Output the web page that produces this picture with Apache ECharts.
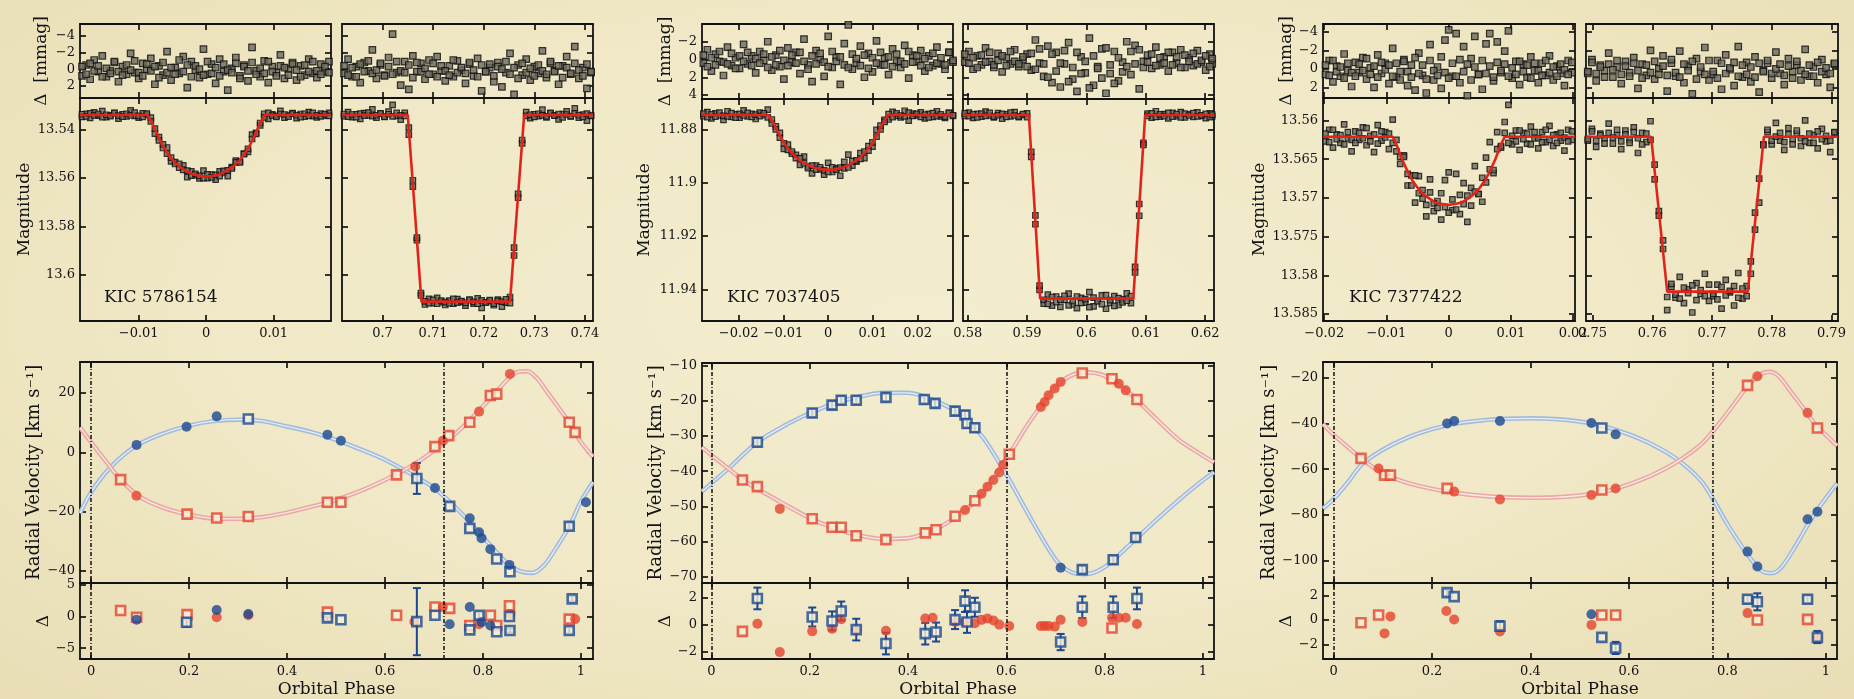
<!DOCTYPE html>
<html><head><meta charset="utf-8">
<script src="https://cdn.jsdelivr.net/npm/echarts@6/dist/echarts.min.js"></script>
<style>
html,body{margin:0;padding:0;width:1854px;height:699px;overflow:hidden;}
body{background:radial-gradient(ellipse at 50% 45%, #f3edcf 0%, #f0e8c6 55%, #e8ddb5 100%);}
#chart{width:1854px;height:699px;}
</style></head><body><div id="chart"></div>
<script>
// ================= KIC 5786154 =================
const lcPhaseP1 = [-0.0184,-0.0178,-0.0172,-0.0166,-0.016,-0.0154,-0.0148,-0.0142,-0.0136,-0.013,-0.0124,-0.0118,-0.0112,-0.0106,-0.01,-0.0094,-0.0088,-0.0082,-0.0076,-0.007,-0.0064,-0.0058,-0.0052,-0.0046,-0.004,-0.0034,-0.0028,-0.0022,-0.0016,-0.001,-0.0004,0.0002,0.0008,0.0014,0.002,0.0026,0.0032,0.0038,0.0044,0.005,0.0056,0.0062,0.0068,0.0074,0.008,0.0086,0.0092,0.0098,0.0104,0.011,0.0116,0.0122,0.0128,0.0134,0.014,0.0146,0.0152,0.0158,0.0164,0.017,0.0176,0.0182];
const lcResidP1 = [0.8,-0.5,1.2,-1.1,0.3,-1.6,0.9,0.2,-0.8,1.5,-0.3,0.6,-1.9,0.4,1.1,-0.7,0.0,-1.3,1.8,-0.4,0.7,-2.1,1.3,-0.2,0.5,-1.5,2.2,-0.9,0.1,1.0,-2.4,0.6,-0.6,1.7,-1.2,0.3,2.5,-0.1,-1.4,0.8,-0.5,1.4,-2.6,0.2,0.9,-1.0,1.6,-0.3,0.4,-1.7,1.1,0.0,-0.8,1.3,-0.4,0.7,-1.2,0.5,1.0,-0.6,0.3,-0.9];
const lcMagP1 = [13.5349,13.5336,13.5353,13.5330,13.5344,13.5325,13.5350,13.5343,13.5333,13.5356,13.5338,13.5347,13.5322,13.5345,13.5352,13.5334,13.5341,13.5352,13.5418,13.5432,13.5477,13.5475,13.5532,13.5535,13.5558,13.5549,13.5597,13.5573,13.5589,13.5602,13.5570,13.5601,13.5587,13.5607,13.5573,13.5580,13.5593,13.5556,13.5529,13.5533,13.5500,13.5493,13.5422,13.5415,13.5384,13.5336,13.5357,13.5338,13.5345,13.5324,13.5352,13.5341,13.5333,13.5354,13.5337,13.5348,13.5329,13.5346,13.5351,13.5335,13.5344,13.5332];
const lcResidP1b = [-0.3,0.6,-0.7,0.2,-0.4,0.9,-0.1,0.5,-0.9,0.3,0.7,-0.5,0.1,-1.0,0.4,0.8,-0.6,0.2,-0.3,1.0,-0.8,0.4,-0.2,0.6,-1.1,0.3,-0.5,0.9,-0.4,0.0,0.7,-0.9,0.5,-0.2,0.8,-0.6,0.1,0.4,-0.7,1.1,-0.3,0.2,-0.8,0.6,-0.1,0.5,-0.9,0.3,0.8,-0.4,-0.2,0.7,-0.6,0.1,0.9,-0.5,0.3,-0.9,0.2,0.6,-0.3,0.4];
const lcMagP1b = [13.5338,13.5347,13.5334,13.5343,13.5337,13.5350,13.5340,13.5346,13.5332,13.5344,13.5348,13.5336,13.5342,13.5331,13.5345,13.5349,13.5335,13.5367,13.5397,13.5446,13.5462,13.5500,13.5517,13.5543,13.5542,13.5567,13.5570,13.5591,13.5584,13.5592,13.5601,13.5586,13.5598,13.5588,13.5593,13.5571,13.5569,13.5561,13.5536,13.5536,13.5502,13.5481,13.5440,13.5419,13.5374,13.5351,13.5332,13.5344,13.5349,13.5337,13.5339,13.5348,13.5335,13.5342,13.5350,13.5336,13.5344,13.5332,13.5343,13.5347,13.5338,13.5345];
const lcModelP1 = [[-0.0187,13.5341],[-0.0087,13.5341],[-0.008,13.5375],[-0.0072,13.5425],[-0.0064,13.547],[-0.0056,13.5505],[-0.0048,13.5532],[-0.004,13.5553],[-0.003,13.5572],[-0.002,13.5585],[-0.001,13.5592],[0,13.5595],[0.001,13.5592],[0.002,13.5585],[0.003,13.5572],[0.004,13.5553],[0.0048,13.5532],[0.0056,13.5505],[0.0064,13.547],[0.0072,13.5425],[0.008,13.5375],[0.0087,13.5341],[0.0185,13.5341]];
const lcPhaseS1 = [0.6924,0.6932,0.694,0.6948,0.6956,0.6964,0.6972,0.698,0.6988,0.6996,0.7004,0.7012,0.702,0.7028,0.7036,0.7044,0.7052,0.706,0.7068,0.7076,0.7084,0.7092,0.71,0.7108,0.7116,0.7124,0.7132,0.714,0.7148,0.7156,0.7164,0.7172,0.718,0.7188,0.7196,0.7204,0.7212,0.722,0.7228,0.7236,0.7244,0.7252,0.726,0.7268,0.7276,0.7284,0.7292,0.73,0.7308,0.7316,0.7324,0.7332,0.734,0.7348,0.7356,0.7364,0.7372,0.738,0.7388,0.7396,0.7404,0.7412];
const lcResidS1 = [0.5,-1.2,0.9,-0.3,1.6,-0.8,0.2,-2.3,1.1,-0.5,0.7,-1.4,-4.2,0.4,1.9,-0.9,2.4,-1.6,0.3,-0.7,1.2,-1.1,0.6,-1.5,0.2,1.4,-0.4,0.9,-1.0,0.1,1.7,-0.6,0.8,-1.3,2.6,0.3,-0.2,1.5,-0.8,2.1,0.4,-1.9,3.0,-0.5,0.7,-1.2,1.3,-0.3,0.5,-2.2,1.0,-0.7,0.2,1.8,-0.4,-1.5,0.6,-2.7,1.1,-0.2,2.3,0.4];
const lcMagS1 = [13.5346,13.5329,13.5350,13.5338,13.5357,13.5333,13.5343,13.5318,13.5352,13.5336,13.5348,13.5327,13.5299,13.5345,13.5360,13.5332,13.5422,13.5610,13.5857,13.6075,13.6122,13.6099,13.6116,13.6095,13.6112,13.6124,13.6106,13.6119,13.6100,13.6111,13.6127,13.6104,13.6118,13.6097,13.6136,13.6113,13.6108,13.6125,13.6102,13.6131,13.6114,13.6091,13.5920,13.5666,13.5458,13.5329,13.5354,13.5338,13.5346,13.5319,13.5351,13.5334,13.5343,13.5359,13.5337,13.5326,13.5347,13.5314,13.5352,13.5339,13.5364,13.5345];
const lcResidS1b = [-0.4,0.7,-0.2,0.9,-0.6,0.3,-1.0,0.5,0.1,-0.7,0.8,-0.3,0.6,-0.9,0.2,0.4,-0.5,1.0,-0.8,0.3,-0.1,0.6,-0.7,0.9,-0.4,0.2,0.7,-1.1,0.4,-0.2,0.5,-0.8,0.1,0.9,-0.5,0.3,-0.6,0.8,-0.3,0.0,-0.9,0.6,-0.2,1.1,-0.7,0.4,-0.1,0.8,-0.5,0.2,0.6,-0.9,0.3,-0.4,1.0,-0.2,0.5,-0.7,0.1,0.8,-0.6,0.3];
const lcMagS1b = [13.5337,13.5348,13.5339,13.5350,13.5335,13.5344,13.5331,13.5346,13.5342,13.5334,13.5349,13.5338,13.5347,13.5332,13.5343,13.5345,13.5393,13.5636,13.5846,13.6085,13.6109,13.6116,13.6103,13.6119,13.6106,13.6112,13.6117,13.6099,13.6114,13.6108,13.6115,13.6102,13.6111,13.6119,13.6105,13.6113,13.6104,13.6118,13.6107,13.6110,13.6101,13.6116,13.5888,13.5682,13.5444,13.5345,13.5340,13.5349,13.5336,13.5343,13.5347,13.5332,13.5344,13.5337,13.5351,13.5339,13.5346,13.5334,13.5342,13.5349,13.5335,13.5344];
const lcModelS1 = [[0.692,13.5341],[0.705,13.5341],[0.7077,13.611],[0.7252,13.611],[0.728,13.5341],[0.7416,13.5341]];
const rv1BlueModel = [[-0.0225,-20.5],[0,-13.5],[0.04,-5],[0.093,2.3],[0.15,6.5],[0.2,9],[0.25,10.5],[0.3,11],[0.35,10.5],[0.4,8.7],[0.45,6.8],[0.5,4.2],[0.55,1.0],[0.6,-2.5],[0.65,-7],[0.7,-12],[0.75,-19.5],[0.8,-28.5],[0.85,-37.5],[0.875,-40],[0.9,-40.6],[0.925,-38],[0.95,-32],[0.976,-25],[1.0,-16.5],[1.0245,-10]];
const rv1RedModel = [[-0.0225,8.4],[0,3.4],[0.03,-3],[0.06,-9.2],[0.1,-15],[0.15,-18.8],[0.2,-21],[0.25,-22.3],[0.3,-22.4],[0.35,-21.8],[0.4,-20.3],[0.45,-18.3],[0.5,-16],[0.55,-13],[0.6,-9.3],[0.65,-5],[0.7,0.5],[0.75,7.2],[0.8,15.5],[0.85,24.5],[0.87,27],[0.89,27.3],[0.91,25],[0.93,20.5],[0.95,16],[0.976,10],[1.0,3.4],[1.0245,-1.5]];
const rv1BlueFilled = [[0.093,2.5],[0.195,8.6],[0.2565,12.1],[0.4825,5.9],[0.51,3.9],[0.702,-12.0],[0.773,-22.2],[0.792,-26.9],[0.797,-28.9],[0.815,-32.6],[0.854,-37.9],[1.01,-16.8]];
const rv1BlueOpen = [[0.321,11.2],[0.665,-8.8],[0.732,-18.2],[0.773,-25.6],[0.828,-35.9],[0.855,-40.2],[0.976,-24.9]];
const rv1BlueErr = [[0.665,-14.0,-3.6],[0.976,-26.0,-23.8]];
const rv1RedFilled = [[0.0927,-14.6],[0.6616,-4.8],[0.718,3.9],[0.792,13.7],[0.855,26.4]];
const rv1RedOpen = [[0.0604,-9.2],[0.196,-20.8],[0.2565,-22.1],[0.321,-21.6],[0.4825,-16.8],[0.51,-16.8],[0.6236,-7.6],[0.702,1.9],[0.73,5.6],[0.773,10.1],[0.815,19.1],[0.828,19.6],[0.976,10.1],[0.988,6.7]];
const dv1BlueFilled = [[0.093,-0.5],[0.2565,1.05],[0.321,0.4],[0.732,-1.2],[0.773,1.5],[0.797,-0.9],[0.815,-1.4]];
const dv1BlueOpen = [[0.195,-0.9],[0.4825,-0.2],[0.51,-0.5],[0.665,-0.8],[0.702,0.2],[0.773,-2.1],[0.792,0.2],[0.828,-2.4],[0.854,0],[0.855,-2.2],[0.976,-2.2],[0.982,2.8]];
const dv1BlueErr = [[0.195,-1.6,-0.2],[0.4825,-0.7,0.3],[0.665,-6.1,4.5],[0.792,-0.3,0.7],[0.855,-2.5,-1.9],[0.976,-2.7,-1.7],[0.982,2.4,3.2]];
const dv1RedFilled = [[0.2565,-0.1],[0.321,0.2],[0.66,-0.8],[0.718,1.5],[0.792,-1.2],[0.856,0.4],[0.988,-0.4]];
const dv1RedOpen = [[0.0604,0.95],[0.093,-0.1],[0.196,0.3],[0.4825,0.7],[0.6236,0.2],[0.702,1.5],[0.732,1.3],[0.773,-1.4],[0.815,0.2],[0.828,-1.4],[0.854,1.7],[0.976,-0.4]];
const ecl1 = [0, 0.718];

// ================= KIC 7037405 =================
const lcPhaseP2 = [-0.0279,-0.027,-0.0261,-0.0252,-0.0243,-0.0234,-0.0225,-0.0216,-0.0207,-0.0198,-0.0189,-0.018,-0.0171,-0.0162,-0.0153,-0.0144,-0.0135,-0.0126,-0.0117,-0.0108,-0.0099,-0.009,-0.0081,-0.0072,-0.0063,-0.0054,-0.0045,-0.0036,-0.0027,-0.0018,-0.0009,0,0.0009,0.0018,0.0027,0.0036,0.0045,0.0054,0.0063,0.0072,0.0081,0.009,0.0099,0.0108,0.0117,0.0126,0.0135,0.0144,0.0153,0.0162,0.0171,0.018,0.0189,0.0198,0.0207,0.0216,0.0225,0.0234,0.0243,0.0252,0.0261,0.027,0.0279];
const lcResidP2 = [0.4,-1.1,1.3,-0.6,0.2,1.8,-1.4,0.7,-0.2,1.0,-1.7,0.5,-0.4,1.5,-0.9,0.1,-2.0,1.2,-0.5,0.8,2.2,-1.3,0.3,-0.8,1.6,-2.3,0.6,2.5,-1.0,0.0,1.9,-2.6,0.9,-0.3,2.8,-1.8,-3.9,1.1,0.4,-1.5,2.0,-0.7,1.4,-2.1,0.6,-0.2,1.7,-1.2,0.3,0.9,-1.6,2.1,-0.5,0.2,-1.0,1.3,-0.4,0.7,-1.4,0.5,1.1,-0.8,0.3];
const lcMagP2 = [11.8750,11.8735,11.8759,11.8740,11.8748,11.8764,11.8732,11.8753,11.8744,11.8756,11.8729,11.8751,11.8742,11.8761,11.8737,11.8747,11.8726,11.8778,11.8789,11.8831,11.8873,11.8857,11.8891,11.8896,11.8933,11.8902,11.8940,11.8965,11.8936,11.8949,11.8970,11.8926,11.8960,11.8946,11.8974,11.8922,11.8895,11.8936,11.8921,11.8889,11.8908,11.8863,11.8865,11.8802,11.8800,11.8764,11.8763,11.8734,11.8749,11.8755,11.8730,11.8767,11.8741,11.8748,11.8736,11.8759,11.8742,11.8753,11.8732,11.8751,11.8757,11.8738,11.8749];
const lcResidP2b = [-0.5,0.8,-0.2,0.6,-0.9,0.3,0.5,-0.7,1.0,-0.4,0.2,-0.8,0.7,-0.1,0.4,-0.6,0.9,-0.3,0.6,-1.0,0.1,0.7,-0.5,0.4,-0.8,0.2,1.1,-0.4,0.5,-0.7,0.3,0.8,-0.9,0.2,-0.3,0.6,0.9,-0.6,-0.1,0.7,-0.5,1.0,-0.2,0.4,-0.8,0.6,-0.3,0.8,-0.6,0.2,0.5,-0.9,0.3,-0.4,0.7,-0.1,0.9,-0.7,0.4,-0.2,0.6,-0.8,0.1];
const lcMagP2b = [11.8741,11.8754,11.8744,11.8752,11.8737,11.8749,11.8751,11.8739,11.8756,11.8742,11.8748,11.8738,11.8753,11.8745,11.8750,11.8740,11.8755,11.8763,11.8800,11.8813,11.8852,11.8877,11.8883,11.8908,11.8909,11.8927,11.8945,11.8936,11.8951,11.8942,11.8954,11.8960,11.8942,11.8951,11.8943,11.8946,11.8943,11.8919,11.8916,11.8911,11.8883,11.8880,11.8849,11.8827,11.8786,11.8772,11.8743,11.8754,11.8740,11.8748,11.8751,11.8737,11.8749,11.8742,11.8753,11.8745,11.8755,11.8739,11.8750,11.8744,11.8752,11.8738,11.8747];
const lcModelP2 = [[-0.0282,11.8746],[-0.0134,11.8746],[-0.0123,11.8774],[-0.0111,11.8814],[-0.0099,11.8851],[-0.0086,11.8879],[-0.0074,11.8901],[-0.0062,11.8918],[-0.0046,11.8933],[-0.0031,11.8944],[-0.0015,11.895],[0,11.8952],[0.0015,11.895],[0.0031,11.8944],[0.0046,11.8933],[0.0062,11.8918],[0.0074,11.8901],[0.0086,11.8879],[0.0099,11.8851],[0.0111,11.8814],[0.0123,11.8774],[0.0134,11.8746],[0.0279,11.8746]];
const lcPhaseS2 = [0.5795,0.5802,0.5809,0.5816,0.5823,0.583,0.5837,0.5844,0.5851,0.5858,0.5865,0.5872,0.5879,0.5886,0.5893,0.59,0.5907,0.5914,0.5921,0.5928,0.5935,0.5942,0.5949,0.5956,0.5963,0.597,0.5977,0.5984,0.5991,0.5998,0.6005,0.6012,0.6019,0.6026,0.6033,0.604,0.6047,0.6054,0.6061,0.6068,0.6075,0.6082,0.6089,0.6096,0.6103,0.611,0.6117,0.6124,0.6131,0.6138,0.6145,0.6152,0.6159,0.6166,0.6173,0.618,0.6187,0.6194,0.6201,0.6208,0.6212];
const lcResidS2 = [0.3,-0.9,1.1,-0.4,0.6,-1.3,0.2,0.9,-0.7,1.4,-0.2,0.5,-1.1,0.8,0.0,-0.6,1.2,-2.2,0.4,1.9,-1.5,2.6,-0.8,3.1,0.5,-1.9,2.2,3.6,-0.3,1.5,-2.4,2.9,0.8,-1.2,3.8,1.6,-0.9,2.4,0.3,-2.0,1.7,-1.6,3.3,0.2,-0.5,1.0,-1.4,0.6,-0.3,1.3,-0.8,0.4,-1.1,0.9,-0.2,0.7,-1.0,0.3,1.2,-0.6,0.5];
const lcMagS2 = [11.8749,11.8737,11.8757,11.8742,11.8752,11.8733,11.8748,11.8755,11.8739,11.8760,11.8744,11.8751,11.8735,11.8754,11.8746,11.8740,11.8903,11.9123,11.9402,11.9454,11.9420,11.9461,11.9427,11.9466,11.9440,11.9416,11.9457,11.9471,11.9432,11.9450,11.9411,11.9464,11.9443,11.9423,11.9473,11.9451,11.9426,11.9459,11.9438,11.9415,11.9452,11.9316,11.9124,11.8851,11.8741,11.8756,11.8732,11.8752,11.8743,11.8759,11.8738,11.8750,11.8735,11.8755,11.8744,11.8753,11.8736,11.8749,11.8758,11.8740,11.8751];
const lcResidS2b = [-0.6,0.4,-0.2,0.9,-0.5,0.3,-0.8,0.6,0.1,-0.4,0.7,-0.9,0.2,0.5,-0.3,0.8,-0.7,1.1,-1.2,0.5,2.0,-0.6,1.3,0.4,-1.0,2.5,0.9,-0.8,1.6,0.2,3.2,-0.4,1.0,2.1,-1.3,0.6,2.7,-0.2,1.4,0.8,-0.9,0.5,-1.1,0.9,0.3,-0.6,0.7,-0.2,0.4,-0.8,0.6,-0.3,0.9,-0.5,0.2,-0.7,0.5,0.1,-0.4,0.8,-0.1];
const lcMagS2b = [11.8740,11.8750,11.8744,11.8755,11.8741,11.8749,11.8738,11.8752,11.8747,11.8742,11.8753,11.8737,11.8748,11.8751,11.8743,11.8754,11.8884,11.9156,11.9386,11.9440,11.9455,11.9429,11.9448,11.9439,11.9425,11.9460,11.9444,11.9427,11.9451,11.9437,11.9467,11.9431,11.9445,11.9456,11.9422,11.9441,11.9462,11.9433,11.9449,11.9443,11.9426,11.9337,11.9080,11.8858,11.8749,11.8740,11.8753,11.8744,11.8750,11.8738,11.8752,11.8743,11.8755,11.8741,11.8748,11.8739,11.8751,11.8747,11.8742,11.8754,11.8745];
const lcModelS2 = [[0.5792,11.8746],[0.5903,11.8746],[0.5922,11.9435],[0.6079,11.9435],[0.6099,11.8746],[0.6215,11.8746]];
const rv2BlueModel = [[-0.0193,-45.8],[0,-43.4],[0.035,-39.2],[0.093,-31.8],[0.15,-27],[0.2,-23.6],[0.25,-20.8],[0.3,-18.9],[0.35,-17.8],[0.4,-17.8],[0.45,-19.8],[0.5,-23.3],[0.55,-30],[0.6,-41],[0.65,-53.5],[0.7,-65],[0.73,-68.5],[0.76,-69.2],[0.8,-67.2],[0.85,-61],[0.9,-54.5],[0.95,-48.3],[1.0,-42.6],[1.0226,-40.3]];
const rv2RedModel = [[-0.0193,-33.2],[0,-35.5],[0.035,-39.3],[0.063,-42.4],[0.093,-45],[0.14,-48.7],[0.2,-53.3],[0.25,-56.2],[0.3,-58.2],[0.35,-59.2],[0.4,-59],[0.45,-56.8],[0.5,-52.8],[0.55,-46.5],[0.6,-36.5],[0.65,-25.5],[0.7,-16.2],[0.73,-13],[0.76,-12],[0.8,-13],[0.85,-17.8],[0.9,-24.5],[0.95,-31],[1.0,-35.6],[1.0226,-37.5]];
const rv2BlueFilled = [[0.7105,-67.4]];
const rv2BlueOpen = [[0.0934,-31.8],[0.205,-23.5],[0.2454,-21.3],[0.264,-19.9],[0.2946,-19.9],[0.355,-19.1],[0.433,-19.7],[0.455,-20.8],[0.4957,-23],[0.516,-24.1],[0.52,-26.5],[0.536,-27.7],[0.7546,-67.9],[0.8175,-65.1],[0.8633,-58.8]];
const rv2BlueErr = [[0.0934,-32.9,-30.7],[0.205,-24.6,-22.4],[0.2454,-22.4,-20.2],[0.264,-21,-18.8],[0.2946,-21,-18.8],[0.355,-20.2,-18],[0.433,-20.8,-18.6],[0.455,-21.9,-19.7],[0.4957,-24.1,-21.9],[0.516,-25.2,-23],[0.52,-27.6,-25.4],[0.536,-28.8,-26.6],[0.7546,-69,-66.8],[0.8175,-66.2,-64],[0.8633,-59.9,-57.7]];
const rv2RedFilled = [[0.139,-50.7],[0.516,-51],[0.5496,-46.4],[0.5616,-44.4],[0.5737,-42.5],[0.5857,-40.4],[0.5937,-38.2],[0.6702,-21.8],[0.678,-20.4],[0.686,-18.5],[0.6985,-16.6],[0.7105,-14.7],[0.8287,-15.2],[0.843,-17.1]];
const rv2RedOpen = [[0.063,-42.5],[0.0934,-44.4],[0.205,-53.5],[0.2454,-55.9],[0.264,-55.9],[0.2946,-58.3],[0.355,-59.4],[0.435,-57.5],[0.457,-56.6],[0.4957,-52.8],[0.536,-48.4],[0.606,-35.2],[0.7546,-12.2],[0.815,-13.8],[0.8658,-19.7]];
const dv2BlueFilled = [];
const dv2BlueOpen = [[0.0934,1.93],[0.205,0.56],[0.2454,0.27],[0.264,1.0],[0.2946,-0.37],[0.355,-1.4],[0.435,-0.67],[0.457,-0.55],[0.4957,0.37],[0.516,1.73],[0.52,0.19],[0.536,1.28],[0.7105,-1.29],[0.7546,1.28],[0.8175,1.28],[0.8658,1.93]];
const dv2BlueErr = [[0.0934,1.13,2.73],[0.205,-0.14,1.26],[0.2454,-0.43,0.97],[0.264,0.3,1.7],[0.2946,-1.17,0.43],[0.355,-2.2,-0.6],[0.435,-1.47,0.13],[0.457,-1.25,0.15],[0.4957,-0.33,1.07],[0.516,0.93,2.53],[0.52,-0.61,0.99],[0.536,0.58,1.98],[0.7105,-1.89,-0.69],[0.7546,0.48,2.08],[0.8175,0.48,2.08],[0.8658,1.13,2.73]];
const dv2RedFilled = [[0.0934,0.07],[0.139,-2.03],[0.205,-0.5],[0.2454,-0.3],[0.264,0.4],[0.2946,-0.4],[0.355,-0.45],[0.435,0.45],[0.45,0.5],[0.4957,0.2],[0.516,0.2],[0.536,0.1],[0.5496,0.35],[0.5616,0.45],[0.5737,0.3],[0.5857,0.0],[0.606,-0.1],[0.6702,-0.1],[0.678,-0.1],[0.686,-0.1],[0.6985,-0.15],[0.7105,0.35],[0.7546,0.2],[0.815,0.5],[0.8287,0.5],[0.843,0.5],[0.8658,0.05]];
const dv2RedOpen = [[0.063,-0.5],[0.815,-0.25]];
const ecl2 = [0, 0.6];

// ================= KIC 7377422 =================
const lcPhaseP3 = [-0.0198,-0.0192,-0.0186,-0.018,-0.0174,-0.0168,-0.0162,-0.0156,-0.015,-0.0144,-0.0138,-0.0132,-0.0126,-0.012,-0.0114,-0.0108,-0.0102,-0.0096,-0.009,-0.0084,-0.0078,-0.0072,-0.0066,-0.006,-0.0054,-0.0048,-0.0042,-0.0036,-0.003,-0.0024,-0.0018,-0.0012,-0.0006,0,0.0006,0.0012,0.0018,0.0024,0.003,0.0036,0.0042,0.0048,0.0054,0.006,0.0066,0.0072,0.0078,0.0084,0.009,0.0096,0.0102,0.0108,0.0114,0.012,0.0126,0.0132,0.0138,0.0144,0.015,0.0156,0.0162,0.0168,0.0174,0.018,0.0186,0.0192,0.0198];
const lcResidP3 = [0.6,-0.9,1.4,-0.3,0.8,-1.6,0.2,1.9,-0.7,0.4,-1.2,1.1,-0.1,2.0,-1.5,0.5,-0.6,1.6,-2.2,0.9,0.3,-1.0,1.8,-0.4,2.3,-1.7,0.7,2.6,-2.6,1.2,-0.2,2.1,-3.1,-4.2,0.8,-3.8,1.5,-2.4,2.9,-1.1,-3.5,0.6,2.2,-2.7,-3.8,1.3,-2.9,0.4,-1.9,-4.1,1.0,-0.8,1.7,-0.5,0.9,-1.3,0.2,1.5,-0.6,0.7,-1.4,1.2,-0.3,0.5,1.8,-0.9,0.4];
const lcMagP3 = [13.5627,13.5612,13.5635,13.5618,13.5629,13.5605,13.5623,13.5640,13.5614,13.5625,13.5609,13.5632,13.5620,13.5641,13.5606,13.5626,13.5615,13.5637,13.5599,13.5640,13.5647,13.5645,13.5684,13.5671,13.5706,13.5672,13.5701,13.5724,13.5676,13.5717,13.5704,13.5728,13.5677,13.5667,13.5716,13.5669,13.5721,13.5681,13.5731,13.5687,13.5659,13.5695,13.5705,13.5648,13.5628,13.5668,13.5615,13.5635,13.5602,13.5580,13.5631,13.5613,13.5638,13.5616,13.5630,13.5608,13.5623,13.5636,13.5615,13.5628,13.5607,13.5633,13.5618,13.5626,13.5639,13.5612,13.5625];
const lcResidP3b = [-0.4,0.7,-0.9,0.3,-0.2,1.0,-0.6,0.4,0.8,-0.5,0.2,-1.1,0.6,-0.3,0.9,-0.7,0.1,-0.4,0.8,-0.6,1.2,-0.8,0.3,0.9,-1.2,0.5,-0.4,1.1,-0.9,0.2,0.7,-1.3,0.4,1.0,-0.6,0.8,-1.0,0.3,-0.5,1.2,-0.2,0.6,-0.9,0.5,-0.3,0.9,-0.7,0.2,-0.5,0.8,-0.1,0.6,-0.8,0.3,-0.4,1.0,-0.6,0.2,0.7,-0.9,0.4,-0.2,0.8,-0.5,0.1,0.6,-0.7];
const lcMagP3b = [13.5617,13.5628,13.5612,13.5624,13.5619,13.5631,13.5615,13.5625,13.5629,13.5616,13.5623,13.5610,13.5627,13.5618,13.5630,13.5614,13.5622,13.5617,13.5629,13.5625,13.5656,13.5647,13.5669,13.5684,13.5671,13.5694,13.5690,13.5709,13.5693,13.5707,13.5713,13.5694,13.5712,13.5719,13.5702,13.5715,13.5696,13.5708,13.5697,13.5710,13.5692,13.5695,13.5674,13.5680,13.5663,13.5664,13.5637,13.5633,13.5616,13.5629,13.5620,13.5627,13.5613,13.5624,13.5617,13.5631,13.5615,13.5623,13.5628,13.5612,13.5625,13.5619,13.5629,13.5616,13.5622,13.5627,13.5614];
const lcModelP3 = [[-0.0202,13.5621],[-0.009,13.5621],[-0.0083,13.5633],[-0.0075,13.565],[-0.0066,13.5666],[-0.0058,13.5678],[-0.005,13.5687],[-0.0041,13.5695],[-0.0031,13.5701],[-0.0021,13.5706],[-0.001,13.5708],[0,13.5709],[0.001,13.5708],[0.0021,13.5706],[0.0031,13.5701],[0.0041,13.5695],[0.005,13.5687],[0.0058,13.5678],[0.0066,13.5666],[0.0075,13.565],[0.0083,13.5633],[0.009,13.5621],[0.0203,13.5621]];
const lcPhaseS3 = [0.7492,0.7499,0.7506,0.7513,0.752,0.7527,0.7534,0.7541,0.7548,0.7555,0.7562,0.7569,0.7576,0.7583,0.759,0.7597,0.7604,0.7611,0.7618,0.7625,0.7632,0.7639,0.7646,0.7653,0.766,0.7667,0.7674,0.7681,0.7688,0.7695,0.7702,0.7709,0.7716,0.7723,0.773,0.7737,0.7744,0.7751,0.7758,0.7765,0.7772,0.7779,0.7786,0.7793,0.78,0.7807,0.7814,0.7821,0.7828,0.7835,0.7842,0.7849,0.7856,0.7863,0.787,0.7877,0.7884,0.7891,0.7898,0.7905];
const lcResidS3 = [0.5,-1.0,1.3,-0.4,0.2,-1.7,0.9,-0.2,1.6,-0.8,0.4,-1.2,2.1,-0.5,0.7,-2.0,1.1,0.0,-1.4,2.4,-0.6,0.8,-1.9,1.5,-0.3,2.7,-1.1,0.3,-2.3,1.2,0.6,-0.9,2.2,-1.5,0.1,1.8,-2.4,0.9,-0.7,1.4,-1.3,2.5,0.2,-0.6,1.0,-1.8,0.5,1.7,-1.1,0.3,-0.4,1.2,-2.1,0.8,-0.2,1.5,-1.0,0.6,2.0,-0.5];
const lcMagS3 = [13.5626,13.5611,13.5634,13.5617,13.5623,13.5604,13.5630,13.5619,13.5637,13.5613,13.5625,13.5609,13.5642,13.5616,13.5628,13.5601,13.5676,13.5717,13.5755,13.5845,13.5815,13.5829,13.5802,13.5836,13.5818,13.5848,13.5810,13.5824,13.5798,13.5833,13.5827,13.5812,13.5843,13.5806,13.5822,13.5839,13.5797,13.5830,13.5814,13.5798,13.5719,13.5706,13.5631,13.5615,13.5631,13.5603,13.5626,13.5638,13.5610,13.5624,13.5617,13.5633,13.5600,13.5629,13.5619,13.5636,13.5611,13.5627,13.5641,13.5616];
const lcResidS3b = [0.3,-0.7,0.5,-0.2,0.9,-0.5,0.1,-0.9,0.6,-0.3,0.8,-0.6,0.2,1.0,-0.4,0.4,-0.8,0.6,-0.3,0.7,-1.0,0.4,0.9,-0.5,0.2,-0.8,1.1,-0.2,0.6,-0.9,0.3,1.0,-0.6,0.5,-0.1,-0.7,0.8,-0.4,0.6,-0.2,0.9,-0.6,0.3,-0.9,0.5,0.0,-0.5,0.7,-0.3,1.0,-0.8,0.2,0.6,-0.4,0.8,-0.7,0.3,-0.1,0.5,-0.6];
const lcMagS3b = [13.5624,13.5614,13.5626,13.5619,13.5630,13.5616,13.5622,13.5612,13.5627,13.5618,13.5629,13.5615,13.5623,13.5631,13.5617,13.5625,13.5657,13.5723,13.5766,13.5828,13.5811,13.5825,13.5830,13.5816,13.5823,13.5813,13.5832,13.5819,13.5827,13.5812,13.5824,13.5831,13.5815,13.5826,13.5820,13.5814,13.5829,13.5817,13.5827,13.5782,13.5741,13.5675,13.5632,13.5612,13.5626,13.5621,13.5616,13.5628,13.5618,13.5631,13.5613,13.5623,13.5627,13.5617,13.5629,13.5614,13.5624,13.5620,13.5626,13.5615];
const lcModelS3 = [[0.7489,13.5621],[0.7598,13.5621],[0.7625,13.5821],[0.776,13.5821],[0.7787,13.5621],[0.7911,13.5621]];
const rv3BlueModel = [[-0.0215,-77.2],[0,-73],[0.03,-65.5],[0.057,-58],[0.1,-51.5],[0.15,-46.2],[0.2,-42.5],[0.25,-40.1],[0.3,-38.7],[0.35,-38],[0.4,-37.8],[0.45,-38.1],[0.5,-39.2],[0.55,-41.3],[0.6,-44.8],[0.65,-49.5],[0.7,-56],[0.75,-66],[0.8,-84],[0.84,-97],[0.87,-104.5],[0.89,-105.4],[0.91,-102.8],[0.94,-93],[0.97,-82],[1.0,-72.7],[1.0228,-66.2]];
const rv3RedModel = [[-0.0215,-40.3],[0,-45],[0.03,-50.5],[0.0557,-55.3],[0.1,-61.8],[0.15,-66],[0.2,-68.6],[0.25,-70.4],[0.3,-71.6],[0.35,-72.3],[0.4,-72.5],[0.45,-72.3],[0.5,-71.5],[0.55,-69.8],[0.6,-66.6],[0.65,-62.3],[0.7,-56.5],[0.75,-48.5],[0.8,-35.5],[0.84,-24],[0.865,-18.8],[0.885,-17.5],[0.905,-19.5],[0.93,-26.5],[0.96,-35],[0.98,-40.8],[1.0,-45],[1.0228,-49.8]];
const rv3BlueFilled = [[0.2307,-40.0],[0.245,-39.0],[0.338,-39.0],[0.5238,-39.8],[0.573,-44.8],[0.841,-96],[0.861,-102.5],[0.963,-81.9],[0.983,-78.6]];
const rv3BlueOpen = [[0.545,-42]];
const rv3BlueErr = [];
const rv3RedFilled = [[0.0915,-59.7],[0.245,-69.8],[0.338,-73.2],[0.5238,-71.3],[0.573,-68.4],[0.861,-19.4],[0.963,-35.4]];
const rv3RedOpen = [[0.0557,-55.3],[0.1035,-62.6],[0.1155,-62.6],[0.2307,-68.4],[0.545,-69.1],[0.841,-23.4],[0.983,-42]];
const dv3BlueFilled = [[0.524,0.47]];
const dv3BlueOpen = [[0.2307,2.26],[0.245,1.93],[0.338,-0.5],[0.545,-1.43],[0.573,-2.3],[0.841,1.71],[0.861,1.5],[0.963,1.71],[0.983,-1.43]];
const dv3BlueErr = [[0.2307,2.0,2.5],[0.338,-0.9,-0.1],[0.573,-2.8,-1.8],[0.841,1.4,2.0],[0.861,0.8,2.2],[0.963,1.4,2.0],[0.983,-1.9,-0.9]];
const dv3RedFilled = [[0.1035,-1.1],[0.1155,0.3],[0.229,0.74],[0.245,0.05],[0.338,-0.95],[0.524,-0.4],[0.841,0.57],[0.983,-1.45]];
const dv3RedOpen = [[0.0557,-0.22],[0.0915,0.41],[0.545,0.41],[0.573,0.41],[0.861,0.0],[0.963,0.05]];
const ecl3 = [0, 0.77];

// ================= tick labels =================
const tickPhase = [0,0.2,0.4,0.6,0.8,1];
const tickXP1 = [-0.01,0,0.01], tickXS1 = [0.7,0.71,0.72,0.73,0.74];
const tickDM1 = [-4,-2,0,2], tickMag1 = [13.54,13.56,13.58,13.6];
const tickRV1 = [-40,-20,0,20], tickDV1 = [-5,0,5];
const tickXP2 = [-0.02,-0.01,0,0.01,0.02], tickXS2 = [0.58,0.59,0.6,0.61,0.62];
const tickDM2 = [-2,0,2,4], tickMag2 = [11.88,11.9,11.92,11.94];
const tickRV2 = [-70,-60,-50,-40,-30,-20,-10], tickDV2 = [-2,0,2];
const tickXP3 = [-0.02,-0.01,0,0.01,0.02], tickXS3 = [0.75,0.76,0.77,0.78,0.79];
const tickDM3 = [-4,-2,0,2], tickMag3 = [13.56,13.565,13.57,13.575,13.58,13.585];
const tickRV3 = [-100,-80,-60,-40,-20], tickDV3 = [-2,0,2];
const starNames = ['KIC 5786154','KIC 7037405','KIC 7377422'];

// ================= builder =================
const FONT = 'DejaVu Serif';
const INK = '#121212';
const BLUE = '#1b4890', RED = '#e5442d';
const fmt = v => String(parseFloat(Number(v).toPrecision(8))).replace('-', '\u2212');
const grid = [], xAxis = [], yAxis = [], series = [], graphic = [];
const nameStyle = {fontFamily: FONT, fontSize: 17, color: INK};

function makeGrid(l, t, w, h, xr, yr, xt, yt, o) {
  o = o || {};
  const gi = grid.length;
  grid.push({left: l, top: t, width: w, height: h});
  const axLine = {show: true, onZero: false, lineStyle: {color: INK, width: 1.8}};
  const tick = vals => ({show: true, inside: true, length: 6, customValues: vals, lineStyle: {color: INK, width: 1.7}});
  const lab = (show, vals, margin) => ({show: show, customValues: vals, formatter: fmt, fontFamily: FONT, fontSize: 13, color: INK, margin: margin});
  const xi = xAxis.length;
  xAxis.push({type: 'value', gridIndex: gi, position: 'bottom', min: xr[0], max: xr[1], axisLine: axLine, axisTick: tick(xt),
    axisLabel: lab(!!o.xLabels, xt, 6), splitLine: {show: false},
    name: o.xName || '', nameLocation: 'middle', nameGap: o.xNameGap || 22, nameTextStyle: nameStyle});
  xAxis.push({type: 'value', gridIndex: gi, position: 'top', min: xr[0], max: xr[1], axisLine: axLine, axisTick: tick(xt),
    axisLabel: {show: false}, splitLine: {show: false}});
  const yi = yAxis.length;
  yAxis.push({type: 'value', gridIndex: gi, position: 'left', min: yr[0], max: yr[1], inverse: !!o.inv, axisLine: axLine,
    axisTick: tick(yt), axisLabel: lab(true, yt, 5), splitLine: {show: false},
    name: o.yName || '', nameLocation: 'middle', nameRotate: 90, nameGap: o.yNameGap || 30,
    nameTextStyle: Object.assign({}, nameStyle, o.yNameSize ? {fontSize: o.yNameSize} : {})});
  yAxis.push({type: 'value', gridIndex: gi, position: 'right', min: yr[0], max: yr[1], inverse: !!o.inv, axisLine: axLine,
    axisTick: tick(yt), axisLabel: {show: false}, splitLine: {show: false}});
  return {xi: xi, yi: yi};
}
function pairs(xs, ys) { const n = Math.min(xs.length, ys.length), out = []; for (let i = 0; i < n; i++) out.push([xs[i], ys[i]]); return out; }
function lcObs(ax, data, size) {
  series.push({type: 'scatter', xAxisIndex: ax.xi, yAxisIndex: ax.yi, data: data, symbol: 'rect', symbolSize: size, silent: true,
    itemStyle: {color: '#6d6a5e', borderColor: '#0c0c0c', borderWidth: 1.2}, z: 2});
}
function lcModel(ax, data) {
  series.push({type: 'line', xAxisIndex: ax.xi, yAxisIndex: ax.yi, data: data, symbol: 'none', silent: true,
    lineStyle: {color: '#e1231a', width: 2.6}, z: 5});
}
function eclMark(ecl) {
  return {silent: true, symbol: ['none', 'none'], label: {show: false}, animation: false,
    lineStyle: {color: '#111', width: 1.5, type: [4, 2, 1, 2]}, data: ecl.map(v => ({xAxis: v}))};
}
function rvModel(ax, data, outer, inner, ecl) {
  const s = {type: 'line', xAxisIndex: ax.xi, yAxisIndex: ax.yi, data: data, smooth: 0.3, symbol: 'none', silent: true,
    lineStyle: {color: outer, width: 4.5}, z: 1};
  if (ecl) s.markLine = eclMark(ecl);
  series.push(s);
  series.push({type: 'line', xAxisIndex: ax.xi, yAxisIndex: ax.yi, data: data, smooth: 0.3, symbol: 'none', silent: true,
    lineStyle: {color: inner, width: 1.3}, z: 1});
}
function pts(ax, data, color, filled, ecl) {
  const s = filled
    ? {type: 'scatter', xAxisIndex: ax.xi, yAxisIndex: ax.yi, data: data, symbol: 'circle', symbolSize: 10, itemStyle: {color: color}, z: 4, silent: true}
    : {type: 'scatter', xAxisIndex: ax.xi, yAxisIndex: ax.yi, data: data, symbol: 'rect', symbolSize: 9,
       itemStyle: {color: '#f6f0da', borderColor: color, borderWidth: 2.6}, z: 4, silent: true};
  if (ecl) s.markLine = eclMark(ecl);
  series.push(s);
}
function errBars(ax, data, color) {
  if (!data.length) return;
  series.push({type: 'custom', xAxisIndex: ax.xi, yAxisIndex: ax.yi, data: data, encode: {x: 0, y: [1, 2]}, z: 3, silent: true,
    renderItem: function (params, api) {
      const x = api.value(0), a = api.coord([x, api.value(1)]), b = api.coord([x, api.value(2)]), w = 4;
      const st = {stroke: color, lineWidth: 2};
      return {type: 'group', children: [
        {type: 'line', shape: {x1: a[0], y1: a[1], x2: b[0], y2: b[1]}, style: st},
        {type: 'line', shape: {x1: a[0] - w, y1: a[1], x2: a[0] + w, y2: a[1]}, style: st},
        {type: 'line', shape: {x1: b[0] - w, y1: b[1], x2: b[0] + w, y2: b[1]}, style: st}]};
    }});
}

function panel(c) {
  const rL = makeGrid(c.xL, 24, c.wLC, c.hTop, c.rxL, c.rDM, c.tXL, c.tDM, {inv: true, yName: '\u0394  [mmag]', yNameGap: c.gDM});
  const rR = makeGrid(c.xR, 24, c.wLC, c.hTop, c.rxR, c.rDM, c.tXR, c.tDM, {inv: true});
  const mL = makeGrid(c.xL, 24 + c.hTop, c.wLC, c.hMag, c.rxL, c.rMag, c.tXL, c.tMag, {inv: true, xLabels: true, yName: 'Magnitude', yNameGap: c.gMag});
  const mR = makeGrid(c.xR, 24 + c.hTop, c.wLC, c.hMag, c.rxR, c.rMag, c.tXR, c.tMag, {inv: true, xLabels: true});
  yAxis[rR.yi].axisLabel.show = false; yAxis[mR.yi].axisLabel.show = false;
  const L = c.lc;
  lcObs(rL, pairs(L.phP, L.rP), 6.5); lcObs(rL, pairs(L.phP, L.rPb), 6.5);
  lcObs(rR, pairs(L.phS, L.rS), 6.5); lcObs(rR, pairs(L.phS, L.rSb), 6.5);
  lcObs(mL, pairs(L.phP, L.mP), 5.5); lcObs(mL, pairs(L.phP, L.mPb), 5.5);
  lcObs(mR, pairs(L.phS, L.mS), 5.5); lcObs(mR, pairs(L.phS, L.mSb), 5.5);
  lcModel(mL, L.modP); lcModel(mR, L.modS);
  const rv = makeGrid(c.xL, c.rvTop, c.wRV, c.rvH, c.rxRV, c.rRV, tickPhase, c.tRV, {yName: 'Radial Velocity [km s\u207B\u00B9]', yNameGap: c.gRV, yNameSize: 18});
  const dv = makeGrid(c.xL, c.rvTop + c.rvH, c.wRV, c.dvH, c.rxRV, c.rDV, tickPhase, c.tDV,
    {xLabels: true, xName: 'Orbital Phase', xNameGap: 22, yName: '\u0394', yNameGap: c.gDV});
  rvModel(rv, c.rv.blueModel, '#a3bbdb', '#e8eef6', c.ecl);
  rvModel(rv, c.rv.redModel, '#eba7a1', '#fbebe9');
  errBars(rv, c.rv.blueErr, BLUE);
  pts(rv, c.rv.redOpen, RED, false); pts(rv, c.rv.redFilled, RED, true);
  pts(rv, c.rv.blueOpen, BLUE, false); pts(rv, c.rv.blueFilled, BLUE, true);
  errBars(dv, c.dv.blueErr, BLUE);
  pts(dv, c.dv.redOpen, RED, false, c.ecl); pts(dv, c.dv.redFilled, RED, true);
  pts(dv, c.dv.blueOpen, BLUE, false); pts(dv, c.dv.blueFilled, BLUE, true);
  graphic.push({type: 'text', left: c.kic[0], top: c.kic[1], z: 10, silent: true,
    style: {text: c.name, font: '17px "DejaVu Serif"', fill: INK}});
}

panel({name: starNames[0], kic: [104, 289], xL: 80, xR: 342, wLC: 251, hTop: 74, hMag: 223, rvTop: 362, rvH: 221, dvH: 76, wRV: 513,
  rxL: [-0.0187, 0.0185], rxR: [0.692, 0.7416], rDM: [-5.4, 3.44], rMag: [13.5271, 13.619], rxRV: [-0.0225, 1.0245], rRV: [-44, 30.4], rDV: [-6.7, 5.3],
  tXL: tickXP1, tXR: tickXS1, tDM: tickDM1, tMag: tickMag1, tRV: tickRV1, tDV: tickDV1,
  gDM: 30, gMag: 47, gRV: 35, gDV: 22, ecl: ecl1,
  lc: {phP: lcPhaseP1, rP: lcResidP1, rPb: lcResidP1b, mP: lcMagP1, mPb: lcMagP1b, modP: lcModelP1,
       phS: lcPhaseS1, rS: lcResidS1, rSb: lcResidS1b, mS: lcMagS1, mSb: lcMagS1b, modS: lcModelS1},
  rv: {blueModel: rv1BlueModel, redModel: rv1RedModel, blueFilled: rv1BlueFilled, blueOpen: rv1BlueOpen, blueErr: rv1BlueErr, redFilled: rv1RedFilled, redOpen: rv1RedOpen},
  dv: {blueFilled: dv1BlueFilled, blueOpen: dv1BlueOpen, blueErr: dv1BlueErr, redFilled: dv1RedFilled, redOpen: dv1RedOpen}});

panel({name: starNames[1], kic: [727, 289], xL: 702, xR: 963, wLC: 251, hTop: 75, hMag: 222, rvTop: 363, rvH: 220, dvH: 76, wRV: 512,
  rxL: [-0.0282, 0.0279], rxR: [0.5792, 0.6215], rDM: [-4, 4.45], rMag: [11.8686, 11.9519], rxRV: [-0.0193, 1.0226], rRV: [-71.7, -9.35], rDV: [-2.54, 3.07],
  tXL: tickXP2, tXR: tickXS2, tDM: tickDM2, tMag: tickMag2, tRV: tickRV2, tDV: tickDV2,
  gDM: 28, gMag: 49, gRV: 37, gDV: 24, ecl: ecl2,
  lc: {phP: lcPhaseP2, rP: lcResidP2, rPb: lcResidP2b, mP: lcMagP2, mPb: lcMagP2b, modP: lcModelP2,
       phS: lcPhaseS2, rS: lcResidS2, rSb: lcResidS2b, mS: lcMagS2, mSb: lcMagS2b, modS: lcModelS2},
  rv: {blueModel: rv2BlueModel, redModel: rv2RedModel, blueFilled: rv2BlueFilled, blueOpen: rv2BlueOpen, blueErr: rv2BlueErr, redFilled: rv2RedFilled, redOpen: rv2RedOpen},
  dv: {blueFilled: dv2BlueFilled, blueOpen: dv2BlueOpen, blueErr: dv2BlueErr, redFilled: dv2RedFilled, redOpen: dv2RedOpen}});

panel({name: starNames[2], kic: [1349, 289], xL: 1323, xR: 1586, wLC: 252, hTop: 74, hMag: 223, rvTop: 362, rvH: 221, dvH: 76, wRV: 514,
  rxL: [-0.0202, 0.0203], rxR: [0.7489, 0.7911], rDM: [-4.83, 3.14], rMag: [13.5571, 13.5859], rxRV: [-0.0215, 1.0228], rRV: [-109.7, -13.2], rDV: [-3.21, 3.05],
  tXL: tickXP3, tXR: tickXS3, tDM: tickDM3, tMag: tickMag3, tRV: tickRV3, tDV: tickDV3,
  gDM: 27, gMag: 55, gRV: 44, gDV: 25, ecl: ecl3,
  lc: {phP: lcPhaseP3, rP: lcResidP3, rPb: lcResidP3b, mP: lcMagP3, mPb: lcMagP3b, modP: lcModelP3,
       phS: lcPhaseS3, rS: lcResidS3, rSb: lcResidS3b, mS: lcMagS3, mSb: lcMagS3b, modS: lcModelS3},
  rv: {blueModel: rv3BlueModel, redModel: rv3RedModel, blueFilled: rv3BlueFilled, blueOpen: rv3BlueOpen, blueErr: rv3BlueErr, redFilled: rv3RedFilled, redOpen: rv3RedOpen},
  dv: {blueFilled: dv3BlueFilled, blueOpen: dv3BlueOpen, blueErr: dv3BlueErr, redFilled: dv3RedFilled, redOpen: dv3RedOpen}});

const chart = echarts.init(document.getElementById('chart'), null, {renderer: 'canvas'});
chart.setOption({backgroundColor: 'transparent', animation: false, grid: grid, xAxis: xAxis, yAxis: yAxis, series: series, graphic: graphic});
</script></body></html>
